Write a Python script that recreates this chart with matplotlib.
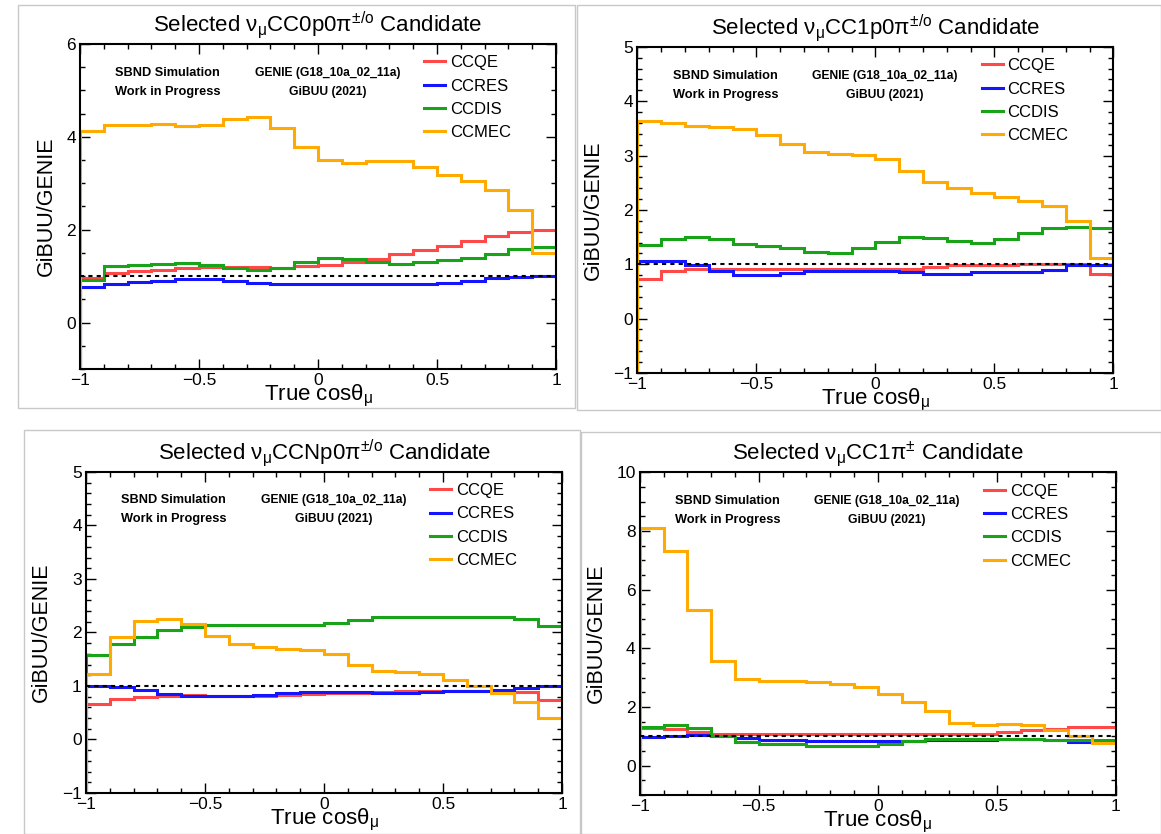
import numpy as np
import matplotlib
matplotlib.use("Agg")
import matplotlib.pyplot as plt
from matplotlib.patches import Rectangle
from matplotlib.ticker import MultipleLocator

plt.rcParams['font.family'] = ['Liberation Sans', 'DejaVu Sans']
plt.rcParams['mathtext.default'] = 'regular'

# 20 bins of true cos(theta_mu) from -1 to 1
edges = np.linspace(-1, 1, 21)
labels = ["CCQE", "CCRES", "CCDIS", "CCMEC"]

# CC0p0pi
qe_0p = [0.96, 1.06, 1.10, 1.14, 1.17, 1.20, 1.20, 1.20, 1.18, 1.21, 1.24, 1.30, 1.37, 1.48, 1.57, 1.64, 1.75, 1.86, 1.95, 1.99]
res_0p = [0.76, 0.83, 0.87, 0.90, 0.94, 0.94, 0.89, 0.85, 0.83, 0.83, 0.83, 0.83, 0.83, 0.83, 0.83, 0.86, 0.90, 0.96, 0.99, 1.01]
dis_0p = [0.92, 1.21, 1.23, 1.26, 1.28, 1.23, 1.17, 1.14, 1.18, 1.30, 1.38, 1.37, 1.30, 1.27, 1.30, 1.35, 1.39, 1.48, 1.59, 1.63]
mec_0p = [4.13, 4.26, 4.26, 4.27, 4.23, 4.25, 4.38, 4.43, 4.19, 3.77, 3.49, 3.44, 3.47, 3.47, 3.36, 3.18, 3.04, 2.86, 2.42, 1.49]

# CC1p0pi
qe_1p = [0.72, 0.87, 0.92, 0.92, 0.92, 0.92, 0.92, 0.92, 0.92, 0.91, 0.91, 0.92, 0.95, 0.98, 0.99, 0.99, 1.00, 1.00, 1.00, 0.83]
res_1p = [1.06, 1.06, 0.99, 0.87, 0.81, 0.81, 0.84, 0.87, 0.87, 0.87, 0.87, 0.85, 0.83, 0.83, 0.85, 0.85, 0.86, 0.90, 0.98, 0.99]
dis_1p = [1.35, 1.47, 1.50, 1.46, 1.37, 1.34, 1.30, 1.23, 1.20, 1.30, 1.41, 1.51, 1.49, 1.42, 1.39, 1.47, 1.58, 1.66, 1.69, 1.67]
mec_1p = [3.63, 3.60, 3.54, 3.52, 3.49, 3.38, 3.22, 3.07, 3.02, 3.01, 2.93, 2.72, 2.51, 2.40, 2.31, 2.24, 2.17, 2.07, 1.79, 1.11]

# CCNp0pi
qe_np = [0.66, 0.75, 0.79, 0.81, 0.83, 0.81, 0.81, 0.81, 0.83, 0.84, 0.86, 0.86, 0.89, 0.90, 0.91, 0.91, 0.91, 0.91, 0.89, 0.74]
res_np = [0.99, 0.98, 0.93, 0.84, 0.81, 0.81, 0.81, 0.83, 0.86, 0.88, 0.88, 0.88, 0.86, 0.87, 0.89, 0.90, 0.91, 0.93, 0.97, 0.99]
dis_np = [1.58, 1.78, 1.92, 2.04, 2.11, 2.14, 2.14, 2.14, 2.14, 2.14, 2.18, 2.24, 2.29, 2.29, 2.29, 2.29, 2.29, 2.29, 2.25, 2.12]
mec_np = [1.22, 1.92, 2.22, 2.26, 2.15, 1.93, 1.78, 1.72, 1.69, 1.68, 1.59, 1.39, 1.28, 1.26, 1.22, 1.12, 1.00, 0.86, 0.70, 0.40]

# CC1pi
qe_1pi = [1.28, 1.25, 1.14, 1.08, 1.08, 1.08, 1.08, 1.08, 1.08, 1.08, 1.08, 1.08, 1.08, 1.08, 1.08, 1.15, 1.20, 1.26, 1.30, 1.30]
res_1pi = [0.96, 1.02, 1.03, 1.02, 0.94, 0.89, 0.86, 0.84, 0.83, 0.83, 0.83, 0.85, 0.86, 0.89, 0.89, 0.91, 0.91, 0.86, 0.82, 0.82]
dis_1pi = [1.32, 1.40, 1.28, 1.00, 0.79, 0.74, 0.74, 0.68, 0.66, 0.66, 0.74, 0.85, 0.91, 0.91, 0.91, 0.91, 0.91, 0.89, 0.88, 0.87]
mec_1pi = [8.10, 7.31, 5.32, 3.58, 2.96, 2.88, 2.88, 2.85, 2.79, 2.68, 2.43, 2.17, 1.85, 1.45, 1.40, 1.43, 1.40, 1.23, 1.01, 0.78]

titles = [r"Selected $\nu_{\mu}$CC0p0$\pi^{\pm/o}$ Candidate",
          r"Selected $\nu_{\mu}$CC1p0$\pi^{\pm/o}$ Candidate",
          r"Selected $\nu_{\mu}$CCNp0$\pi^{\pm/o}$ Candidate",
          r"Selected $\nu_{\mu}$CC1$\pi^{\pm}$ Candidate"]
ymax = [6, 5, 5, 10]
ymajor = [2, 1, 1, 2]
yminor = [0.5, 0.2, 0.2, 0.5]

colors = ['#ff4848', '#1414ff', '#18a318', '#ffaa00']

# axes boxes in figure fractions (left, bottom, width, height)
boxes = [(0.0689, 0.5576, 0.410, 0.3897),
         (0.5490, 0.5528, 0.410, 0.3910),
         (0.0741, 0.0492, 0.410, 0.3850),
         (0.5510, 0.0468, 0.410, 0.3870)]
# gray frames of the pasted canvases, in figure pixels (x0, y0 top, x1, y1 bottom)
frames = [(18, 5, 575, 408), (577, 5, 1161, 410), (24, 430, 580, 834), (581, 432, 1161, 834)]

data = [(qe_0p, res_0p, dis_0p, mec_0p),
        (qe_1p, res_1p, dis_1p, mec_1p),
        (qe_np, res_np, dis_np, mec_np),
        (qe_1pi, res_1pi, dis_1pi, mec_1pi)]

fig = plt.figure(figsize=(11.61, 8.34), dpi=100)
W, H = 1161., 834.
for (x0, y0, x1, y1) in frames:
    fig.patches.append(Rectangle((x0 / W, 1 - y1 / H), (x1 - x0) / W, (y1 - y0) / H,
                                 transform=fig.transFigure, fill=False,
                                 edgecolor='#c8c8c8', linewidth=1.0))


def histline(ax, vals, ybot, color):
    # ROOT style outline: start from the bottom of the frame at the low edge
    x = np.concatenate([[edges[0]], np.repeat(edges, 2)[1:-1]])
    y = np.concatenate([[ybot], np.repeat(vals, 2)])
    ax.plot(x, y, color=color, lw=2.2, solid_joinstyle='miter')


def minus(v, p):
    return ("%g" % v).replace('-', '\u2212')


for i in range(4):
    ax = fig.add_axes(boxes[i])
    ybot = -1
    for vals, c in zip(data[i], colors):
        histline(ax, vals, ybot, c)
    ax.plot([-1, 1], [1, 1], color='black', lw=1.5, ls=(0, (2, 2)))
    ax.set_xlim(-1, 1)
    ax.set_ylim(-1, ymax[i])
    ax.xaxis.set_major_locator(MultipleLocator(0.5))
    ax.xaxis.set_minor_locator(MultipleLocator(0.1))
    ax.yaxis.set_major_locator(MultipleLocator(ymajor[i]))
    ax.yaxis.set_minor_locator(MultipleLocator(yminor[i]))
    ax.xaxis.set_major_formatter(minus)
    ax.yaxis.set_major_formatter(minus)
    ax.tick_params(which='both', direction='in', top=True, right=True, labelsize=12.5, width=1.0)
    ax.tick_params(which='major', length=7.5, pad=3)
    ax.tick_params(which='minor', length=3.8)
    for s in ax.spines.values():
        s.set_linewidth(1.5)
    ax.set_title(titles[i], fontsize=16, pad=9)
    ax.set_xlabel(r"True cos$\theta_{\mu}$", fontsize=16, labelpad=-3.5)
    ax.set_ylabel("GiBUU/GENIE", fontsize=15.5, labelpad=7)
    ax.text(0.074, 0.912, "SBND Simulation", transform=ax.transAxes, fontsize=9.2,
            fontweight='bold', va='center', ha='left')
    ax.text(0.074, 0.853, "Work in Progress", transform=ax.transAxes, fontsize=9.2,
            fontweight='bold', va='center', ha='left')
    ax.text(0.52, 0.912, "GENIE (G18_10a_02_11a)", transform=ax.transAxes, fontsize=8.7,
            fontweight='bold', va='center', ha='center')
    ax.text(0.52, 0.853, "GiBUU (2021)", transform=ax.transAxes, fontsize=8.7,
            fontweight='bold', va='center', ha='center')
    handles = [plt.Line2D([], [], color=c, lw=2.2) for c in colors]
    ax.legend(handles, labels, loc='upper left', bbox_to_anchor=(0.723, 0.965), frameon=False,
              fontsize=12, handlelength=1.26, handletextpad=0.3, labelspacing=0.5,
              borderpad=0, borderaxespad=0)

fig.savefig("out.png", dpi=100)
